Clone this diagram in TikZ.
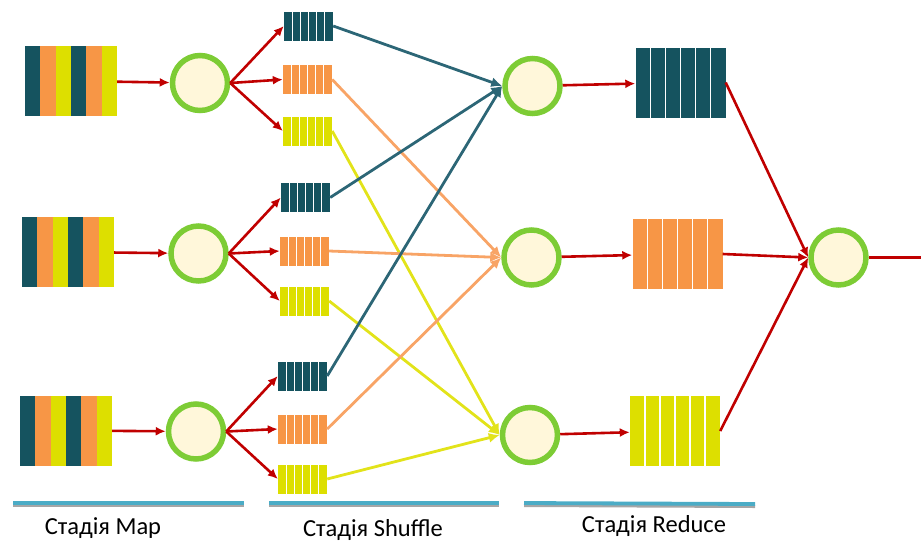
\documentclass[tikz,border=0pt]{standalone}
\usepackage{fontspec}
\setmainfont{Carlito}
\usetikzlibrary{arrows.meta,calc}
\definecolor{cteal}{HTML}{15535F}
\definecolor{corange}{HTML}{F79646}
\definecolor{cyellow}{HTML}{DDDF00}
\definecolor{cgreen}{HTML}{7DCC35}
\definecolor{ccream}{HTML}{FFF7DA}
\definecolor{cred}{HTML}{C00000}
\definecolor{ltteal}{HTML}{2C6676}
\definecolor{ltorange}{HTML}{F8A466}
\definecolor{ltyellow}{HTML}{E2E31A}
\definecolor{cblue}{HTML}{4BACC6}
\begin{document}
\begin{tikzpicture}[x=1pt,y=-1pt,
  inblock/.style={rectangle,inner sep=0pt,minimum width=92pt,minimum height=70pt,
    path picture={
      \foreach \i/\c in {0/cteal,1/corange,2/cyellow,3/cteal,4/corange,5/cyellow}{
        \pgfmathsetmacro{\ja}{\i/6}\pgfmathsetmacro{\jb}{(\i+1)/6}
        \fill[\c] ($(path picture bounding box.south west)!\ja!(path picture bounding box.south east)$)
          rectangle ($(path picture bounding box.north west)!\jb!(path picture bounding box.north east)$);
      }}},
  qcells/.style={path picture={
      \foreach \i in {1,...,5}{
        \pgfmathsetmacro{\ja}{\i/6}
        \draw[white,line width=1.1pt] ($(path picture bounding box.south west)!\ja!(path picture bounding box.south east)$)
          -- ($(path picture bounding box.north west)!\ja!(path picture bounding box.north east)$);
      }}},
  queue/.style={rectangle,inner sep=0pt,minimum width=49pt,minimum height=29pt,fill=#1,qcells},
  bigqueue/.style={rectangle,inner sep=0pt,minimum width=90pt,minimum height=70pt,fill=#1,qcells},
  proc/.style={circle,draw=cgreen,line width=5.5pt,fill=ccream,minimum size=55pt,inner sep=0pt},
  redline/.style={draw=cred,line width=2.6pt},
  redarrow/.style={redline,-{Latex[length=10pt,width=9pt]}},
  sharrow/.style={draw=#1,line width=2.8pt,-{Latex[length=11pt,width=10pt]}},
  stageline/.style={draw=cblue,line width=3.8pt},
  stageshadow/.style={draw=black!35,line width=3pt},
  stagelabel/.style={font=\fontsize{24.5}{26}\selectfont,inner sep=0pt}
]
\useasboundingbox (0,0) rectangle (921,542);

% input blocks
\node[inblock] (in1) at (71,81) {};
\node[inblock] (in2) at (68,252) {};
\node[inblock] (in3) at (66,430.5) {};

% map circles
\node[proc] (m1) at (200,83) {};
\node[proc] (m2) at (198.5,253.5) {};
\node[proc] (m3) at (196,431.5) {};

% shuffle queues
\node[queue=cteal]   (q1a) at (308.5,26) {};
\node[queue=corange] (q1b) at (307.5,79.5) {};
\node[queue=cyellow] (q1c) at (307.5,131) {};
\node[queue=cteal]   (q2a) at (305.5,197.5) {};
\node[queue=corange] (q2b) at (304.5,251) {};
\node[queue=cyellow] (q2c) at (304.5,301) {};
\node[queue=cteal]   (q3a) at (302.5,376) {};
\node[queue=corange] (q3b) at (302.5,429) {};
\node[queue=cyellow] (q3c) at (302.5,479) {};

% reduce circles
\node[proc] (r1) at (532.5,86) {};
\node[proc] (r2) at (531.5,257.5) {};
\node[proc] (r3) at (530,435) {};

% reduce queues
\node[bigqueue=cteal]   (b1) at (680.5,82.5) {};
\node[bigqueue=corange] (b2) at (677.5,254) {};
\node[bigqueue=cyellow] (b3) at (675,431) {};

% final circle
\node[proc] (f) at (838.5,257.5) {};
\coordinate (out) at (921,257.5);

% input -> map
\draw[redarrow] (in1) -- (m1);
\draw[redarrow] (in2) -- (m2);
\draw[redarrow] (in3) -- (m3);

% map -> queues
\foreach \m/\r in {m1/1,m2/2,m3/3}{
  \draw[redarrow] (\m.east) -- (q\r a.west);
  \draw[redarrow] (\m.east) -- (q\r b.west);
  \draw[redarrow] (\m.east) -- (q\r c.west);
}

% shuffle
\foreach \r in {1,2,3}{
  \draw[sharrow=ltteal] (q\r a.east) -- (r1.west);
  \draw[sharrow=ltorange] (q\r b.east) -- (r2.west);
  \draw[sharrow=ltyellow] (q\r c.east) -- (r3.west);
}

% reduce
\draw[redarrow] (r1) -- (b1);
\draw[redarrow] (r2) -- (b2);
\draw[redarrow] (r3) -- (b3);
\draw[redarrow] (b1.east) -- (f.west);
\draw[redarrow] (b2.east) -- (f.west);
\draw[redarrow] (b3.east) -- (f.west);
\draw[redline] (f) -- (out);

% stage lines
\coordinate (s1a) at (13,503); \coordinate (s1b) at (244,503);
\coordinate (s2a) at (269,503); \coordinate (s2b) at (499,503);
\coordinate (s3a) at (524,503); \coordinate (s3b) at (755,504);
\foreach \a/\b in {s1a/s1b,s2a/s2b,s3a/s3b}{
  \draw[stageshadow] ([yshift=-2.5pt]\a) -- ([yshift=-2.5pt]\b);
  \draw[stageline] (\a) -- (\b);
}
\node[stagelabel] (l1) at (103,528) {Стадія Map};
\node[stagelabel] (l2) at (373,530) {Стадія Shuffle};
\node[stagelabel] (l3) at (654,526) {Стадія Reduce};
\end{tikzpicture}
\end{document}
